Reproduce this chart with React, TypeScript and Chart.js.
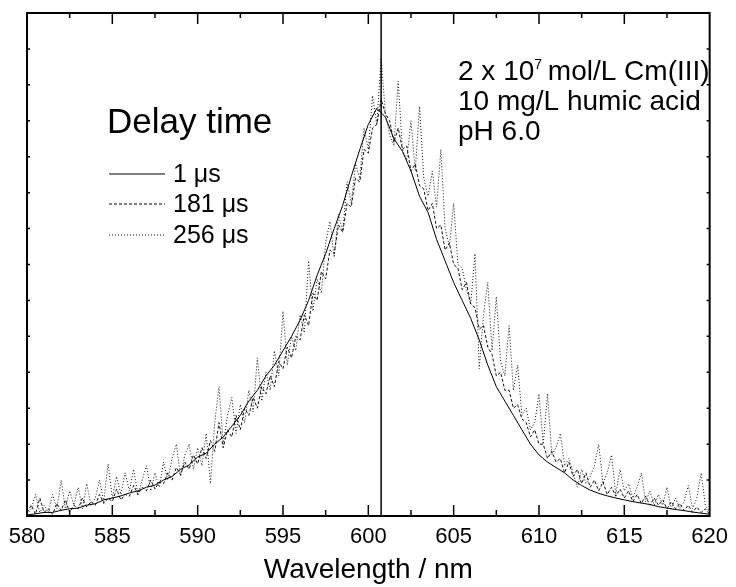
import React, { useEffect, useRef } from 'react';
import { Chart, registerables } from 'chart.js';

Chart.register(...registerables);

const FONT = "'Liberation Sans', Arial, Helvetica, sans-serif";

// Wavelength grid for the 1 µs trace (nm)
const wavelengthsHalf = [
  580, 580.5, 581, 581.5, 582, 582.5, 583, 583.5, 584, 584.5,
  585, 585.5, 586, 586.5, 587, 587.5, 588, 588.5, 589, 589.5,
  590, 590.5, 591, 591.5, 592, 592.5, 593, 593.5, 594, 594.5,
  595, 595.5, 596, 596.5, 597, 597.5, 598, 598.5, 599, 599.5,
  600, 600.5, 601, 601.5, 602, 602.5, 603, 603.5, 604, 604.5,
  605, 605.5, 606, 606.5, 607, 607.5, 608, 608.5, 609, 609.5,
  610, 610.5, 611, 611.5, 612, 612.5, 613, 613.5, 614, 614.5,
  615, 615.5, 616, 616.5, 617, 617.5, 618, 618.5, 619, 619.5,
  620,
];

// Wavelength grid for the 181 µs and 256 µs traces (nm)
const wavelengthsQuarter = [
  580, 580.25, 580.5, 580.75, 581, 581.25, 581.5, 581.75,
  582, 582.25, 582.5, 582.75, 583, 583.25, 583.5, 583.75,
  584, 584.25, 584.5, 584.75, 585, 585.25, 585.5, 585.75,
  586, 586.25, 586.5, 586.75, 587, 587.25, 587.5, 587.75,
  588, 588.25, 588.5, 588.75, 589, 589.25, 589.5, 589.75,
  590, 590.25, 590.5, 590.75, 591, 591.25, 591.5, 591.75,
  592, 592.25, 592.5, 592.75, 593, 593.25, 593.5, 593.75,
  594, 594.25, 594.5, 594.75, 595, 595.25, 595.5, 595.75,
  596, 596.25, 596.5, 596.75, 597, 597.25, 597.5, 597.75,
  598, 598.25, 598.5, 598.75, 599, 599.25, 599.5, 599.75,
  600, 600.25, 600.5, 600.75, 601, 601.25, 601.5, 601.75,
  602, 602.25, 602.5, 602.75, 603, 603.25, 603.5, 603.75,
  604, 604.25, 604.5, 604.75, 605, 605.25, 605.5, 605.75,
  606, 606.25, 606.5, 606.75, 607, 607.25, 607.5, 607.75,
  608, 608.25, 608.5, 608.75, 609, 609.25, 609.5, 609.75,
  610, 610.25, 610.5, 610.75, 611, 611.25, 611.5, 611.75,
  612, 612.25, 612.5, 612.75, 613, 613.25, 613.5, 613.75,
  614, 614.25, 614.5, 614.75, 615, 615.25, 615.5, 615.75,
  616, 616.25, 616.5, 616.75, 617, 617.25, 617.5, 617.75,
  618, 618.25, 618.5, 618.75, 619, 619.25, 619.5, 619.75,
  620,
];

// Delay time 1 µs (solid)
const delay1 = [
  0.03, 0.06, 0.1, 0.1, 0.16, 0.2, 0.22, 0.3, 0.34, 0.45,
  0.5, 0.56, 0.64, 0.7, 0.8, 0.86, 1.0, 1.1, 1.3, 1.42,
  1.64, 1.75, 2.0, 2.2, 2.5, 2.8, 3.2, 3.5, 3.9, 4.2,
  4.6, 5.0, 5.45, 6.0, 6.7, 7.3, 8.0, 8.65, 9.45, 10.2,
  10.9, 11.35, 11.1, 10.5, 10.15, 9.6, 8.9, 8.45, 7.7, 7.1,
  6.5, 6.0, 5.5, 4.9, 4.2, 3.6, 3.2, 2.8, 2.4, 2.0,
  1.7, 1.5, 1.35, 1.2, 1.0, 0.85, 0.72, 0.63, 0.56, 0.5,
  0.45, 0.4, 0.36, 0.32, 0.26, 0.22, 0.18, 0.15, 0.11, 0.08,
  0.05,
];

// Delay time 181 µs (dashed)
const delay181 = [
  0.1, 0.3, 0.05, 0.5, 0.1, 0.2, 0.05, 0.35,
  0.15, 0.45, 0.1, 0.3, 0.2, 0.5, 0.25, 0.4,
  0.3, 0.6, 0.35, 0.5, 0.4, 0.75, 0.45, 0.6,
  0.55, 0.85, 0.6, 0.8, 0.7, 1.0, 0.75, 0.95,
  0.9, 1.2, 1.0, 1.35, 1.15, 1.5, 1.3, 1.7,
  1.45, 1.9, 1.6, 2.1, 1.8, 2.6, 1.9, 2.4,
  2.2, 2.8, 2.4, 3.0, 2.8, 3.3, 3.0, 3.6,
  3.4, 3.9, 3.6, 4.3, 4.1, 4.7, 4.4, 5.0,
  4.9, 5.6, 5.3, 6.2, 6.0, 6.8, 6.6, 7.4,
  7.3, 8.1, 7.9, 8.7, 8.6, 9.4, 9.3, 10.2,
  10.1, 10.8, 10.9, 11.6, 11.2, 11.0, 10.4, 10.8,
  10.2, 10.3, 9.6, 9.8, 9.2, 9.1, 8.5, 8.7,
  8.0, 8.1, 7.4, 7.6, 7.0, 6.9, 6.3, 6.5,
  5.9, 5.8, 5.2, 5.3, 4.7, 4.5, 3.9, 4.0,
  3.5, 3.5, 3.0, 3.1, 2.7, 2.6, 2.2, 2.4,
  2.0, 2.0, 1.6, 1.8, 1.5, 1.6, 1.2, 1.5,
  1.1, 1.3, 0.9, 1.2, 0.8, 1.0, 0.7, 0.95,
  0.6, 0.8, 0.55, 0.75, 0.5, 0.7, 0.4, 0.6,
  0.35, 0.55, 0.3, 0.5, 0.3, 0.45, 0.2, 0.4,
  0.2, 0.35, 0.15, 0.3, 0.1, 0.25, 0.1, 0.2,
  0.05,
];

// Delay time 256 µs (dotted)
const delay256 = [
  0.05, 0.2, 0.6, 0.1, 0.3, 0.1, 0.6, 0.2,
  1.0, 0.2, 0.7, 0.3, 0.8, 0.2, 0.9, 0.3,
  0.5, 1.0, 0.4, 1.45, 0.5, 1.1, 0.6, 1.2,
  0.7, 1.3, 0.6, 1.0, 1.4, 0.7, 1.2, 0.8,
  1.5, 1.0, 1.6, 2.0, 1.1, 1.7, 2.0, 1.3,
  1.9, 1.4, 2.3, 0.9, 2.6, 3.6, 2.0, 2.8,
  3.3, 2.3, 3.1, 2.6, 3.5, 2.9, 4.4, 3.2,
  4.0, 3.5, 4.6, 3.9, 5.7, 4.2, 5.0, 4.6,
  5.6, 5.1, 7.1, 5.7, 6.6, 6.2, 7.6, 8.2,
  7.2, 8.4, 7.9, 9.3, 8.7, 9.8, 9.4, 10.8,
  10.2, 11.7, 10.9, 12.75, 11.2, 10.6, 10.3, 12.1,
  10.2, 9.9, 11.0, 9.6, 11.4, 9.4, 8.9, 9.6,
  8.6, 10.2, 8.0, 7.5, 8.7, 7.0, 6.9, 6.3,
  5.9, 7.3, 4.1, 5.6, 6.5, 4.6, 6.1, 4.3,
  3.9, 5.3, 3.5, 4.2, 2.8, 3.0, 2.4, 2.6,
  3.4, 2.0, 3.4, 1.7, 1.9, 2.3, 1.4, 1.6,
  1.2, 0.8, 1.3, 0.9, 1.1, 1.4, 2.0, 0.9,
  1.2, 1.7, 0.6, 1.3, 0.7, 0.9, 0.5, 0.8,
  1.2, 0.4, 0.7, 0.3, 0.6, 0.3, 0.8, 0.2,
  0.5, 0.2, 0.4, 0.85, 0.2, 0.5, 1.2, 0.3,
  0.1,
];

const seriesLabels = ['1 \u03bcs', '181 \u03bcs', '256 \u03bcs'];
const markerWavelength = [600.75];
const xTickValues = [580, 585, 590, 595, 600, 605, 610, 615, 620];
const yRange = [0, 14];
const legendTitle = 'Delay time';
const noteLines = ['2 x 10', '7', ' mol/L Cm(III)', '10 mg/L humic acid', 'pH 6.0'];
const axisTitle = 'Wavelength / nm';

const toPoints = (xs: number[], ys: number[]) => xs.map((x, i) => ({ x, y: ys[i] }));

const decorPlugin = {
  id: 'decor',
  afterDatasetsDraw(chart: any) {
    const { ctx, chartArea: a, scales } = chart;
    const xs = scales.x;
    const ys = scales.y;
    ctx.save();
    ctx.strokeStyle = '#000';
    ctx.fillStyle = '#000';

    // x ticks (inward), top and bottom
    ctx.lineWidth = 1.5;
    ctx.beginPath();
    for (let i = 0; i < xTickValues.length; i++) {
      const v = xTickValues[i];
      const px = xs.getPixelForValue(v);
      if (i > 0 && i < xTickValues.length - 1) {
        ctx.moveTo(px, a.bottom);
        ctx.lineTo(px, a.bottom - 11);
        ctx.moveTo(px, a.top);
        ctx.lineTo(px, a.top + 11);
      }
      if (i < xTickValues.length - 1) {
        const mv = (v + xTickValues[i + 1]) / 2;
        const mp = xs.getPixelForValue(mv);
        ctx.moveTo(mp, a.bottom);
        ctx.lineTo(mp, a.bottom - 6);
        ctx.moveTo(mp, a.top);
        ctx.lineTo(mp, a.top + 5);
      }
    }
    // y ticks (inward), left and right
    for (let v = yRange[0] + 1; v < yRange[1]; v++) {
      const py = ys.getPixelForValue(v);
      ctx.moveTo(a.left, py);
      ctx.lineTo(a.left + 3, py);
      ctx.moveTo(a.right, py);
      ctx.lineTo(a.right - 3, py);
    }
    ctx.stroke();

    // frame
    ctx.lineWidth = 2;
    ctx.strokeRect(a.left, a.top, a.right - a.left, a.bottom - a.top);

    // legend
    ctx.textBaseline = 'alphabetic';
    ctx.textAlign = 'left';
    ctx.font = `35px ${FONT}`;
    ctx.fillText(legendTitle, 107, 133);
    const rows = [182, 212, 243];
    ctx.font = `25px ${FONT}`;
    for (let i = 0; i < 3; i++) {
      const ds = chart.data.datasets[i];
      ctx.save();
      ctx.lineWidth = ds.borderWidth;
      ctx.setLineDash(ds.borderDash || []);
      ctx.beginPath();
      ctx.moveTo(109, rows[i] - 8);
      ctx.lineTo(165, rows[i] - 8);
      ctx.stroke();
      ctx.restore();
      ctx.fillText(ds.label, 173, rows[i]);
    }

    // notes
    ctx.font = `28px ${FONT}`;
    let x0 = 458;
    ctx.fillText(noteLines[0], x0, 80);
    x0 += ctx.measureText(noteLines[0]).width;
    ctx.font = `14px ${FONT}`;
    ctx.fillText(noteLines[1], x0, 69);
    x0 += ctx.measureText(noteLines[1]).width - 2;
    ctx.font = `28px ${FONT}`;
    ctx.fillText(noteLines[2], x0, 80);
    ctx.fillText(noteLines[3], 458, 110);
    ctx.fillText(noteLines[4], 458, 140);
    ctx.restore();
  },
};

export default function App() {
  const ref = useRef<HTMLCanvasElement>(null);

  useEffect(() => {
    document.body.style.margin = '0';
    const canvas = ref.current!;
    const chart = new Chart(canvas, {
      type: 'line',
      data: {
        datasets: [
          {
            label: seriesLabels[0],
            data: toPoints(wavelengthsHalf, delay1),
            borderColor: '#000',
            borderWidth: 1,
            pointRadius: 0,
            tension: 0,
          },
          {
            label: seriesLabels[1],
            data: toPoints(wavelengthsQuarter, delay181),
            borderColor: '#111',
            borderWidth: 1,
            borderDash: [3, 2],
            pointRadius: 0,
            tension: 0,
          },
          {
            label: seriesLabels[2],
            data: toPoints(wavelengthsQuarter, delay256),
            borderColor: '#111',
            borderWidth: 1,
            borderDash: [1, 2],
            pointRadius: 0,
            tension: 0,
          },
          {
            label: 'marker',
            data: [
              { x: markerWavelength[0], y: yRange[0] },
              { x: markerWavelength[0], y: yRange[1] },
            ],
            borderColor: '#000',
            borderWidth: 1.5,
            pointRadius: 0,
          },
        ],
      },
      options: {
        responsive: false,
        animation: false,
        events: [],
        layout: { padding: { left: 27, right: 21, top: 13, bottom: 0 } },
        plugins: { legend: { display: false }, tooltip: { enabled: false } },
        scales: {
          x: {
            type: 'linear',
            min: xTickValues[0],
            max: xTickValues[xTickValues.length - 1],
            afterBuildTicks: (scale: any) => {
              scale.ticks = xTickValues.map((v) => ({ value: v }));
            },
            afterFit: (scale: any) => {
              scale.height = 71;
            },
            grid: { display: false, drawTicks: false },
            border: { display: false },
            ticks: {
              color: '#000',
              font: { family: FONT, size: 22 },
              padding: 8,
              maxRotation: 0,
              autoSkip: false,
            },
            title: {
              display: true,
              text: axisTitle,
              color: '#000',
              font: { family: FONT, size: 28 },
              padding: { top: 0, bottom: 0 },
            },
          },
          y: {
            type: 'linear',
            display: false,
            min: yRange[0],
            max: yRange[1],
          },
        },
      },
      plugins: [decorPlugin],
    });
    return () => chart.destroy();
  }, []);

  return <canvas ref={ref} width={736} height={587} style={{ display: 'block' }} />;
}
